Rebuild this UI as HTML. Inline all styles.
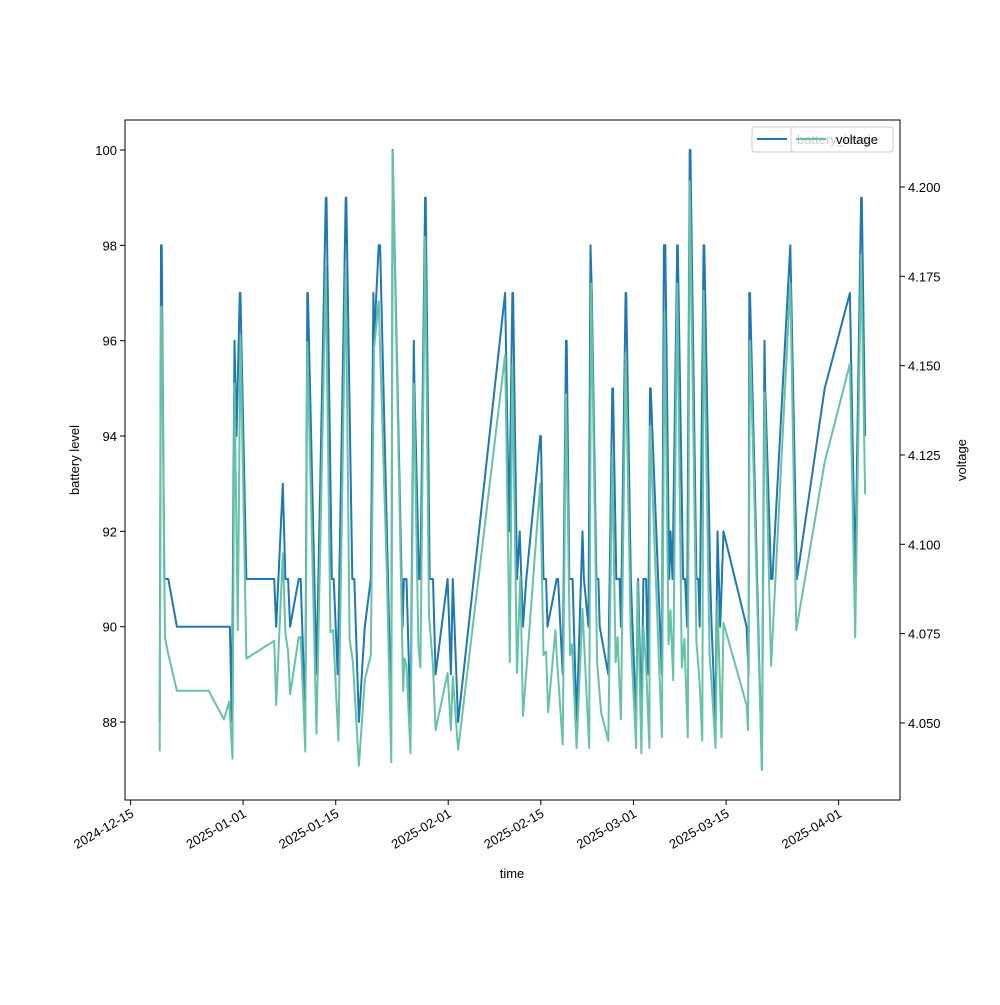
<!DOCTYPE html>
<html><head><meta charset="utf-8"><style>
body{margin:0;background:#fff}
svg{font-family:"Liberation Sans","DejaVu Sans",sans-serif;}
</style></head><body>
<svg id="chart" width="1000" height="1000" xmlns="http://www.w3.org/2000/svg">
<rect width="1000" height="1000" fill="#fff"/>
<g id="plot"></g>
<g id="axes"></g>
</svg>
<script>
// days since 2024-12-15
const batteryDays=[4.4,4.6,4.7,5.1,5.7,7.0,15.0,15.3,15.7,16.0,16.5,16.6,17.5,21.7,22.0,23.0,23.4,23.8,24.1,25.4,25.7,26.4,26.7,26.8,28.1,29.5,29.6,30.4,30.7,31.3,32.5,32.6,33.5,33.8,34.5,35.4,36.3,36.7,36.8,37.5,37.7,38.9,39.4,39.6,41.1,41.3,41.7,42.3,42.8,42.9,43.6,43.8,44.5,44.6,45.2,45.7,46.1,47.9,48.4,48.7,49.5,56.6,57.2,57.7,57.8,58.4,58.8,59.3,59.8,61.9,62.0,62.4,62.8,63.0,64.4,64.6,65.3,65.8,65.9,66.3,66.8,67.0,67.4,68.3,68.5,69.2,69.5,69.7,70.4,70.7,70.9,72.2,72.8,72.9,73.4,73.9,74.1,74.8,74.9,75.6,76.4,76.7,77.2,77.5,77.9,78.2,78.5,78.6,80.3,80.6,80.8,81.4,81.6,81.9,82.6,82.7,83.5,83.8,84.1,84.5,84.6,85.5,85.8,86.0,86.6,86.7,87.6,87.8,88.4,88.7,89.1,89.6,93.1,93.4,93.5,93.6,95.4,95.8,95.9,96.8,97.0,99.7,100.7,104.9,108.7,109.5,110.4,110.5,111.0];
const batteryLevel=[88,98,98,91,91,90,90,88,96,94,97,97,91,91,90,93,91,91,90,91,91,88,97,97,89,99,99,91,91,89,99,99,91,91,88,90,91,97,96,98,98,91,88,100,90,91,91,88,96,95,91,91,99,99,91,91,89,91,89,91,88,97,92,97,97,91,92,90,91,94,94,91,91,90,91,91,89,96,96,91,91,90,88,92,91,90,98,97,91,91,90,89,95,95,91,91,90,97,97,91,88,91,88,91,91,89,95,95,89,98,98,91,92,91,98,98,91,91,90,100,100,91,91,90,98,98,91,90,88,92,90,92,90,89,97,97,87,96,95,91,91,98,91,95,97,91,99,99,94];
const voltageDays=[4.4,4.6,4.7,5.2,5.6,7.0,11.8,14.1,14.9,15.4,15.7,16.2,16.6,17.5,21.7,22.0,23.0,23.4,23.8,24.1,25.4,25.7,26.4,26.7,28.1,29.5,30.2,30.6,31.4,32.5,33.1,33.6,34.5,35.4,36.3,36.8,37.5,38.7,39.4,39.6,41.2,41.4,41.7,42.3,42.8,43.5,43.8,44.5,45.1,45.7,46.1,47.9,48.4,48.7,49.5,56.6,57.3,57.7,58.4,58.9,59.3,61.9,62.4,62.8,63.1,64.2,64.4,65.3,65.8,66.4,66.7,67.4,68.3,68.5,69.3,69.6,70.5,71.1,72.2,72.8,73.3,73.6,74.1,74.8,75.6,76.4,76.6,77.2,77.5,77.9,78.4,78.5,80.3,80.7,81.3,81.6,82.0,82.6,83.3,83.7,84.2,84.5,85.5,86.0,86.4,86.6,87.5,87.8,88.4,88.7,89.3,89.6,93.1,93.3,93.6,95.4,95.8,96.8,99.7,100.6,104.9,108.7,109.5,110.4,111.0];
const voltage=[4.042,4.1665,4.1665,4.074,4.070,4.059,4.059,4.051,4.056,4.040,4.145,4.076,4.1585,4.068,4.073,4.055,4.0975,4.075,4.070,4.058,4.074,4.074,4.042,4.1566,4.047,4.1776,4.0754,4.076,4.045,4.1776,4.0735,4.067,4.038,4.062,4.069,4.155,4.168,4.093,4.039,4.210,4.059,4.068,4.066,4.0415,4.145,4.0717,4.0655,4.186,4.080,4.066,4.048,4.064,4.048,4.063,4.0425,4.153,4.067,4.1505,4.064,4.091,4.052,4.117,4.069,4.070,4.053,4.076,4.069,4.044,4.142,4.069,4.072,4.043,4.082,4.0735,4.043,4.173,4.067,4.053,4.045,4.125,4.067,4.074,4.051,4.1536,4.074,4.043,4.0895,4.0415,4.077,4.066,4.043,4.133,4.046,4.165,4.072,4.0815,4.062,4.173,4.0655,4.0735,4.046,4.2016,4.073,4.061,4.045,4.171,4.069,4.061,4.043,4.084,4.046,4.078,4.055,4.048,4.157,4.037,4.1425,4.066,4.173,4.076,4.123,4.1505,4.074,4.181,4.114];
const xTickDays=[0,17,31,48,62,76,90,107];
const xTickLabels=["2024-12-15","2025-01-01","2025-01-15","2025-02-01","2025-02-15","2025-03-01","2025-03-15","2025-04-01"];
const leftTicks=[88,90,92,94,96,98,100];
const rightTicks=[4.050,4.075,4.100,4.125,4.150,4.175,4.200];

const L=125,R=900,T=120,B=800;
const xS=d=>130.6+d*6.617;
const yL=v=>150+(100-v)*47.67;
const yR=v=>187+(4.2-v)*3573;
const NS="http://www.w3.org/2000/svg";
const plot=document.getElementById('plot'), axes=document.getElementById('axes');
function mk(tag,attrs,parent){const e=document.createElementNS(NS,tag);for(const k in attrs)e.setAttribute(k,attrs[k]);parent.appendChild(e);return e;}

const bl=mk('polyline',{points:batteryDays.map((d,i)=>xS(d).toFixed(1)+','+yL(batteryLevel[i]).toFixed(1)).join(' '),fill:'none',stroke:'#1f77b4','stroke-width':2,'stroke-linejoin':'round'},plot);


const vl=mk('polyline',{points:voltageDays.map((d,i)=>xS(d).toFixed(1)+','+yR(voltage[i]).toFixed(1)).join(' '),fill:'none',stroke:'#66c2a5','stroke-width':2,'stroke-linejoin':'round'},plot);



const frame=mk('rect',{x:L,y:T,width:R-L,height:B-T,fill:'none',stroke:'#000','stroke-width':1},axes);



xTickDays.forEach((d,i)=>{
  const x=xS(d);
  const t=mk('line',{x1:x,x2:x,y1:B,y2:B+5,stroke:'#000'},axes);
  
  
  const tx=mk('text',{x:x+4,y:B+16,'font-size':13,'text-anchor':'end',transform:`rotate(-30 ${x+4} ${B+16})`},axes);
  tx.textContent=xTickLabels[i];
  
  
});
leftTicks.forEach(v=>{
  const y=yL(v);
  const t=mk('line',{x1:L-5,x2:L,y1:y,y2:y,stroke:'#000'},axes);
  
  
  const tx=mk('text',{x:L-8,y:y+5,'font-size':13,'text-anchor':'end'},axes);
  tx.textContent=String(v);
  
  
});
rightTicks.forEach(v=>{
  const y=yR(v);
  const t=mk('line',{x1:R,x2:R+5,y1:y,y2:y,stroke:'#000'},axes);
  
  
  const tx=mk('text',{x:R+8,y:y+5,'font-size':13,'text-anchor':'start'},axes);
  tx.textContent=v.toFixed(3);
  
  
});
</script>
<svg style="position:absolute;left:0;top:0" width="1000" height="1000" xmlns="http://www.w3.org/2000/svg" font-family="Liberation Sans, DejaVu Sans, sans-serif">
<text x="512" y="878" font-size="13" text-anchor="middle">time</text>
<text x="79" y="460" font-size="13" text-anchor="middle" transform="rotate(-90 79 460)">battery level</text>
<text x="966" y="460" font-size="13" text-anchor="middle" transform="rotate(-90 966 460)">voltage</text>
<g>
<rect x="752" y="127" width="141" height="25" rx="3" fill="#fff" fill-opacity="0.8" stroke="#ccc"/>
<line x1="757" y1="139" x2="787" y2="139" stroke="#1f77b4" stroke-width="2"/>
<text x="797" y="144" font-size="13" fill="#000">battery_level</text>
</g>
<g>
<rect x="791" y="127" width="102" height="25" rx="3" fill="#fff" fill-opacity="0.8" stroke="#ccc"/>
<line x1="796" y1="139" x2="826" y2="139" stroke="#66c2a5" stroke-width="2"/>
<text x="836" y="144" font-size="13" fill="#000">voltage</text>
</g>
</svg>
</body></html>
